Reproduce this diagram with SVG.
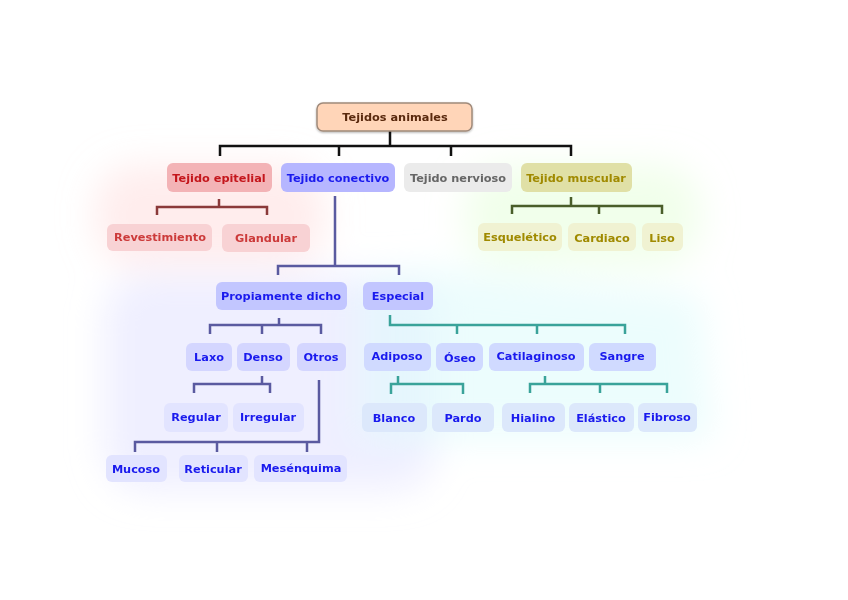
<svg xmlns="http://www.w3.org/2000/svg" width="848" height="600" viewBox="0 0 848 600">
<defs>
<filter id="glow" x="-40%" y="-40%" width="180%" height="180%"><feGaussianBlur stdDeviation="18"/></filter>
<filter id="sh" x="-10%" y="-20%" width="120%" height="150%"><feGaussianBlur in="SourceAlpha" stdDeviation="1.2"/><feOffset dy="1"/><feComponentTransfer><feFuncA type="linear" slope="0.3"/></feComponentTransfer><feMerge><feMergeNode/><feMergeNode in="SourceGraphic"/></feMerge></filter>
</defs>
<style>
text{font-family:"DejaVu Sans","Liberation Sans",sans-serif;font-size:11.3px;font-weight:bold;text-anchor:middle;dominant-baseline:central}
.c{fill:none;stroke-width:2.5}
.k{stroke:#111}
.r{stroke:#8b3a3a}
.g{stroke:#4a5e2a}
.b{stroke:#5a5aa0}
.t{stroke:#3aa39a}
.root rect{fill:#ffd5b8;stroke:#a08a7a;stroke-width:1.5}
.root text{fill:#5a2a10}
.ep rect{fill:#f3b3b6}.ep text{fill:#c4161c}
.ep2 rect{fill:#f8d2d4}.ep2 text{fill:#cc3a3a}
.co rect{fill:#b6b6ff}.co text{fill:#1a1aee}
.co2 rect{fill:#c2c6ff}.co2 text{fill:#1a1aee}
.co3 rect{fill:#d4d6ff}.co3 text{fill:#1a1aee}
.co4 rect{fill:#e2e4ff}.co4 text{fill:#1a1aee}
.es3 rect{fill:#d0daff}.es3 text{fill:#1a1aee}
.es4 rect{fill:#dce8fb}.es4 text{fill:#1a1aee}
.ne rect{fill:#ebebeb}.ne text{fill:#666}
.mu rect{fill:#e0e0a6}.mu text{fill:#a08a00}
.mu2 rect{fill:#f0f2d2}.mu2 text{fill:#a08a00}
</style>
<rect width="848" height="600" fill="#fff"/>
<g id="glows" filter="url(#glow)">
<rect x="95" y="165" width="230" height="100" rx="40" fill="#ffd8d8" opacity="0.45"/>
<rect x="465" y="165" width="235" height="100" rx="40" fill="#e4ffd8" opacity="0.5"/>
<rect x="105" y="275" width="330" height="215" rx="40" fill="#e4e4ff" opacity="0.6"/>
<path d="M360 280 L440 268 L700 295 L712 440 L360 440 Z" fill="#dcfbfb" opacity="0.55"/>
</g>
<g id="connectors">
<path class="c k" d="M390 131V146M220 156V146H571V156M339 146V156M451 146V156"/>
<path class="c r" d="M219 199V207M157 215V207H267V215"/>
<path class="c g" d="M571 197V206M512 214V206H662V214M599 206V214"/>
<path class="c b" d="M335 196V266M278 275V266H399V275"/>
<path class="c b" d="M279 318V325M210 334V325H321V334M262 325V334"/>
<path class="c b" d="M262 376V384M194 393V384H270V393"/>
<path class="c b" d="M319 380V442H135V452M217 442V452M307 442V452"/>
<path class="c t" d="M390 315V325H625V334M457 325V334M537 325V334"/>
<path class="c t" d="M398 376V384M391 394V384H463V394"/>
<path class="c t" d="M545 376V384M530 393V384H667V393M600 384V393"/>
</g>
<g id="n-root" class="root" filter="url(#sh)"><rect x="317" y="103" width="155" height="28" rx="6"/><text x="395" y="117">Tejidos animales</text></g>
<g id="n-epitelial" class="ep"><rect x="167" y="163" width="105" height="29" rx="6"/><text x="219" y="178">Tejido epitelial</text></g>
<g id="n-conectivo" class="co"><rect x="281" y="163" width="114" height="29" rx="6"/><text x="338" y="178">Tejido conectivo</text></g>
<g id="n-nervioso" class="ne"><rect x="404" y="163" width="108" height="29" rx="6"/><text x="458" y="178">Tejido nervioso</text></g>
<g id="n-muscular" class="mu"><rect x="521" y="163" width="111" height="29" rx="6"/><text x="576" y="178">Tejido muscular</text></g>
<g id="n-revestimiento" class="ep2"><rect x="107" y="224" width="105" height="27" rx="6"/><text x="160" y="237">Revestimiento</text></g>
<g id="n-glandular" class="ep2"><rect x="222" y="224" width="88" height="28" rx="6"/><text x="266" y="238">Glandular</text></g>
<g id="n-esqueletico" class="mu2"><rect x="478" y="223" width="84" height="28" rx="6"/><text x="520" y="237">Esquelético</text></g>
<g id="n-cardiaco" class="mu2"><rect x="568" y="223" width="68" height="28" rx="6"/><text x="602" y="238">Cardiaco</text></g>
<g id="n-liso" class="mu2"><rect x="642" y="223" width="41" height="28" rx="6"/><text x="662" y="238">Liso</text></g>
<g id="n-propiamente" class="co2"><rect x="216" y="282" width="131" height="28" rx="6"/><text x="281" y="296">Propiamente dicho</text></g>
<g id="n-especial" class="co2"><rect x="363" y="282" width="70" height="28" rx="6"/><text x="398" y="296">Especial</text></g>
<g id="n-laxo" class="co3"><rect x="186" y="343" width="46" height="28" rx="6"/><text x="209" y="357">Laxo</text></g>
<g id="n-denso" class="co3"><rect x="237" y="343" width="53" height="28" rx="6"/><text x="263" y="357">Denso</text></g>
<g id="n-otros" class="co3"><rect x="297" y="343" width="49" height="28" rx="6"/><text x="321" y="357">Otros</text></g>
<g id="n-regular" class="co4"><rect x="164" y="403" width="64" height="29" rx="6"/><text x="196" y="417">Regular</text></g>
<g id="n-irregular" class="co4"><rect x="233" y="403" width="71" height="29" rx="6"/><text x="268" y="417">Irregular</text></g>
<g id="n-mucoso" class="co4"><rect x="106" y="455" width="61" height="27" rx="6"/><text x="136" y="469">Mucoso</text></g>
<g id="n-reticular" class="co4"><rect x="179" y="455" width="69" height="27" rx="6"/><text x="213" y="469">Reticular</text></g>
<g id="n-mesenquima" class="co4"><rect x="254" y="455" width="93" height="27" rx="6"/><text x="301" y="468">Mesénquima</text></g>
<g id="n-adiposo" class="es3"><rect x="364" y="343" width="67" height="28" rx="6"/><text x="397" y="356">Adiposo</text></g>
<g id="n-oseo" class="es3"><rect x="436" y="343" width="47" height="28" rx="6"/><text x="460" y="358">Óseo</text></g>
<g id="n-cartilaginoso" class="es3"><rect x="489" y="343" width="95" height="28" rx="6"/><text x="536" y="356">Catilaginoso</text></g>
<g id="n-sangre" class="es3"><rect x="589" y="343" width="67" height="28" rx="6"/><text x="622" y="356">Sangre</text></g>
<g id="n-blanco" class="es4"><rect x="362" y="403" width="65" height="29" rx="6"/><text x="394" y="418">Blanco</text></g>
<g id="n-pardo" class="es4"><rect x="432" y="403" width="62" height="29" rx="6"/><text x="463" y="418">Pardo</text></g>
<g id="n-hialino" class="es4"><rect x="502" y="403" width="63" height="29" rx="6"/><text x="533" y="418">Hialino</text></g>
<g id="n-elastico" class="es4"><rect x="569" y="403" width="65" height="29" rx="6"/><text x="601" y="418">Elástico</text></g>
<g id="n-fibroso" class="es4"><rect x="638" y="403" width="59" height="29" rx="6"/><text x="667" y="417">Fibroso</text></g>
</svg>
